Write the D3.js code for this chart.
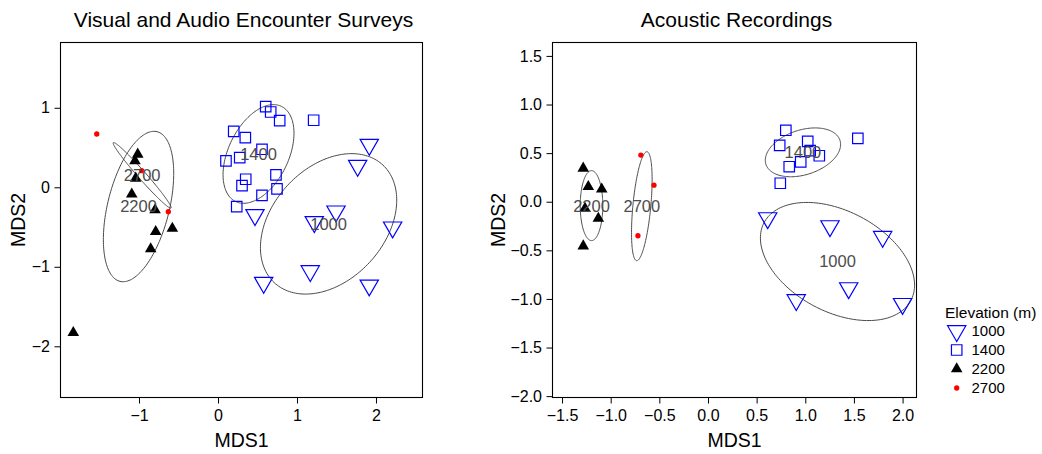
<!DOCTYPE html>
<html>
<head>
<meta charset="utf-8">
<script src="https://cdn.jsdelivr.net/npm/d3@7"></script>
<style>
  body { margin: 0; background: #fff; }
  text { font-family: "Liberation Sans", Arial, Helvetica, sans-serif; }
</style>
</head>
<body>
<svg id="chart" width="1042" height="454"></svg>
<script>
// ---- Data: NMDS site scores by elevation band (m) ----
const elevations = ["1000", "1400", "2200", "2700"];

// Visual and audio encounter surveys
const vaes1000 = [[1.915, 0.536], [1.768, 0.272], [0.468, -0.348], [1.494, -0.302], [1.219, -0.436],
                  [2.211, -0.503], [1.168, -1.053], [0.578, -1.200], [1.915, -1.233]];
const vaes1400 = [[0.604, 1.014], [0.667, 0.947], [0.781, 0.838], [1.211, 0.843], [0.199, 0.704],
                  [0.346, 0.624], [0.557, 0.478], [0.275, 0.372], [0.101, 0.331], [0.734, 0.155],
                  [0.351, 0.101], [0.304, 0.020], [0.747, -0.021], [0.557, -0.101], [0.237, -0.244]];
const vaes2200 = [[-1.016, 0.415], [-1.051, 0.331], [-1.042, 0.113], [-1.092, -0.088], [-0.797, -0.286],
                  [-0.789, -0.558], [-0.578, -0.516], [-0.852, -0.776], [-1.832, -1.829]];
const vaes2700 = [[-1.535, 0.670], [-0.966, 0.209], [-0.629, -0.307]];

// Group ellipses: centre, semi-axes and rotation (degrees) in ordination units
const vaesEllipses = [
  { group: "1000", cx: 1.400, cy: -0.460, a: 1.010, b: 0.710, angle: 47 },
  { group: "1400", cx: 0.513, cy: 0.419, a: 0.665, b: 0.380, angle: 64 },
  { group: "2200", cx: -1.006, cy: -0.242, a: 0.970, b: 0.390, angle: 76 },
  { group: "2700", cx: -0.960, cy: 0.150, a: 0.550, b: 0.050, angle: -48.4 }
];

// Acoustic recordings
const acoustic1000 = [[0.614, -0.168], [1.254, -0.250], [1.795, -0.360], [1.446, -0.888],
                      [0.907, -1.011], [2.000, -1.050]];
const acoustic1400 = [[0.800, 0.735], [1.540, 0.652], [0.737, 0.580], [1.025, 0.620], [1.050, 0.525],
                      [1.144, 0.473], [0.953, 0.410], [0.835, 0.360], [0.743, 0.190]];
const acoustic2200 = [[-1.282, 0.344], [-1.230, 0.154], [-1.092, 0.128], [-1.264, -0.068],
                      [-1.127, -0.171], [-1.282, -0.456]];
const acoustic2700 = [[-0.690, 0.480], [-0.555, 0.170], [-0.720, -0.350]];

const acousticEllipses = [
  { group: "1000", cx: 1.331, cy: -0.615, a: 0.854, b: 0.517, angle: -28 },
  { group: "1400", cx: 0.976, cy: 0.508, a: 0.400, b: 0.230, angle: 18 },
  { group: "2200", cx: -1.197, cy: -0.040, a: 0.360, b: 0.116, angle: 90 },
  { group: "2700", cx: -0.680, cy: -0.046, a: 0.563, b: 0.092, angle: 84.6 }
];

// Tick labels
const vaesXTicks = [-1, 0, 1, 2];
const vaesYTicks = [-2, -1, 0, 1];
const acousticXTicks = [-1.5, -1.0, -0.5, 0.0, 0.5, 1.0, 1.5, 2.0];
const acousticYTicks = [-2.0, -1.5, -1.0, -0.5, 0.0, 0.5, 1.0, 1.5];

// ---- Drawing ----
const svg = d3.select("#chart");

const symbolStyles = {
  "1000": { type: d3.symbolTriangle, size: 145, rotate: 180, fill: "none", stroke: "#0000ff" },
  "1400": { type: d3.symbolSquare, size: 110, rotate: 0, fill: "none", stroke: "#0000ff" },
  "2200": { type: d3.symbolTriangle, size: 58, rotate: 0, fill: "#000", stroke: "none" },
  "2700": { type: d3.symbolCircle, size: 22, rotate: 0, fill: "#ff0000", stroke: "none" }
};

function drawSymbol(g, group, x, y) {
  const s = symbolStyles[group];
  g.append("path")
    .attr("d", d3.symbol().type(s.type).size(s.size)())
    .attr("transform", `translate(${x},${y}) rotate(${s.rotate})`)
    .attr("fill", s.fill)
    .attr("stroke", s.stroke)
    .attr("stroke-width", 1.2);
}

function drawPanel(opts) {
  const { left, right, top, bottom, xDomain, yDomain, xTicks, yTicks, fmt, title,
          groups, ellipses, yTitleX } = opts;
  const x = d3.scaleLinear().domain(xDomain).range([left, right]);
  const y = d3.scaleLinear().domain(yDomain).range([bottom, top]);
  const g = svg.append("g");

  // Ellipses
  const line = d3.line().x(d => x(d[0])).y(d => y(d[1])).curve(d3.curveLinearClosed);
  ellipses.forEach(e => {
    const th = e.angle * Math.PI / 180;
    const pts = d3.range(0, 360, 2).map(t => {
      const r = t * Math.PI / 180;
      const u = e.a * Math.cos(r), v = e.b * Math.sin(r);
      return [e.cx + u * Math.cos(th) - v * Math.sin(th), e.cy + u * Math.sin(th) + v * Math.cos(th)];
    });
    g.append("path").attr("d", line(pts))
      .attr("fill", "none").attr("stroke", "#4a4a4a").attr("stroke-width", 1);
  });

  // Points
  elevations.forEach((grp, i) => {
    groups[i].forEach(p => drawSymbol(g, grp, x(p[0]), y(p[1])));
  });

  // Group labels at ellipse centres
  ellipses.forEach(e => {
    g.append("text").attr("x", x(e.cx)).attr("y", y(e.cy))
      .attr("text-anchor", "middle").attr("dy", "0.36em")
      .attr("font-size", 16.5).attr("fill", "#4d4d4d").text(e.group);
  });

  // Box
  g.append("rect").attr("x", left).attr("y", top)
    .attr("width", right - left).attr("height", bottom - top)
    .attr("fill", "none").attr("stroke", "#000").attr("stroke-width", 1.1);

  // Axes
  const ax = g.append("g").attr("transform", `translate(0,${bottom})`)
    .call(d3.axisBottom(x).tickValues(xTicks).tickFormat(fmt).tickSize(6).tickPadding(6.5));
  const ay = g.append("g").attr("transform", `translate(${left},0)`)
    .call(d3.axisLeft(y).tickValues(yTicks).tickFormat(fmt).tickSize(6).tickPadding(4.5));
  [ax, ay].forEach(a => {
    a.select(".domain").remove();
    a.selectAll("line").attr("stroke", "#000");
    a.selectAll("text").attr("font-size", 16).attr("fill", "#000")
      .style("font-family", "\"Liberation Sans\", Arial, sans-serif");
  });

  // Titles
  const cx = (left + right) / 2, cy = (top + bottom) / 2;
  g.append("text").attr("x", cx + 2).attr("y", 27).attr("text-anchor", "middle")
    .attr("font-size", 21).attr("fill", "#000").text(title);
  g.append("text").attr("x", cx).attr("y", 447).attr("text-anchor", "middle")
    .attr("font-size", 19.5).attr("fill", "#000").text("MDS1");
  g.append("text").attr("transform", `translate(${yTitleX},${cy}) rotate(-90)`)
    .attr("text-anchor", "middle").attr("font-size", 19.5).attr("fill", "#000").text("MDS2");
}

drawPanel({
  left: 60.5, right: 422.5, top: 42.5, bottom: 397.5,
  xDomain: [-1.994, 2.589], yDomain: [-2.644, 1.821],
  xTicks: vaesXTicks, yTicks: vaesYTicks, fmt: d3.format("d"),
  title: "Visual and Audio Encounter Surveys",
  groups: [vaes1000, vaes1400, vaes2200, vaes2700], ellipses: vaesEllipses, yTitleX: 25
});

drawPanel({
  left: 552.5, right: 916.5, top: 42.5, bottom: 397.5,
  xDomain: [-1.598, 2.143], yDomain: [-2.014, 1.638],
  xTicks: acousticXTicks, yTicks: acousticYTicks, fmt: d3.format(".1f"),
  title: "Acoustic Recordings",
  groups: [acoustic1000, acoustic1400, acoustic2200, acoustic2700], ellipses: acousticEllipses, yTitleX: 505
});

// Legend
const legend = svg.append("g");
legend.append("text").attr("x", 945).attr("y", 318).attr("font-size", 15.5)
  .attr("fill", "#000").text("Elevation (m)");
elevations.forEach((grp, i) => {
  const yy = 331 + i * 19;
  drawSymbol(legend, grp, 956.7, yy);
  legend.append("text").attr("x", 971.5).attr("y", yy).attr("dy", "0.36em")
    .attr("font-size", 15).attr("fill", "#000").text(grp);
});
</script>
</body>
</html>
